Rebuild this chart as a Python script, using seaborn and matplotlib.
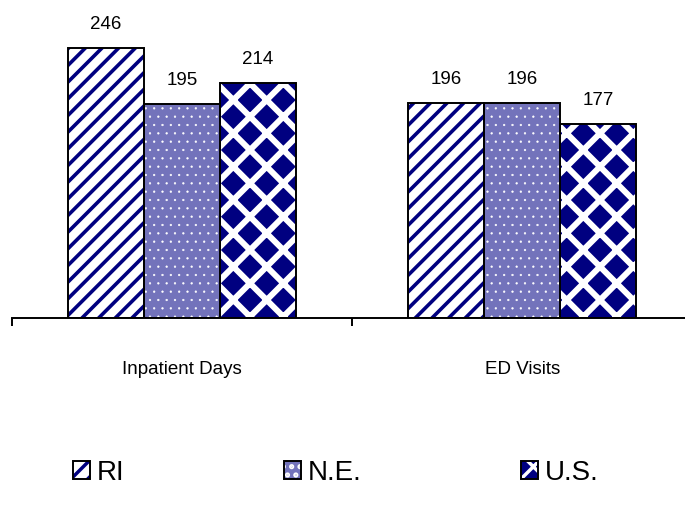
import matplotlib
matplotlib.use("Agg")
import matplotlib.pyplot as plt
import matplotlib.patches as mpatches
from matplotlib.legend_handler import HandlerTuple
import seaborn as sns
import pandas as pd

# -------------------------
# DATA
# -------------------------
categories = ["Inpatient Days", "ED Visits"]
regions = ["RI", "N.E.", "U.S."]
ri_values = [246, 196]
ne_values = [195, 196]
us_values = [214, 177]

# -------------------------
# STYLE
# -------------------------
sns.set_theme(style="white")
plt.rcParams['font.family'] = ['Liberation Sans', 'DejaVu Sans']
plt.rcParams['text.color'] = 'black'
plt.rcParams['xtick.color'] = 'black'
plt.rcParams['xtick.labelcolor'] = 'black'
plt.rcParams['hatch.linewidth'] = 2.5

navy = "#000080"
styles = {
    "RI":   dict(face="white", hatch="//", hcolor=navy, hlw=2.6),
    "N.E.": dict(face="#7373bb", hatch="..", hcolor="white", hlw=0.4),
    "U.S.": dict(face=navy, hatch="x", hcolor="white", hlw=4.3),
}


def style_patch(p, st):
    p.set_facecolor(st["face"])
    p.set_edgecolor(st["hcolor"])
    p.set_hatch(st["hatch"])
    p.set_linewidth(0)
    if hasattr(p, "set_hatch_linewidth"):
        p.set_hatch_linewidth(st["hlw"])


df = pd.DataFrame({
    "Measure": categories * 3,
    "Region": [r for r in regions for _ in categories],
    "Value": ri_values + ne_values + us_values,
})

fig = plt.figure(figsize=(6.85, 5.14), dpi=100)
ax = fig.add_axes([0.0175, 0.381, 0.993, 0.598])

sns.barplot(data=df, x="Measure", y="Value", hue="Region",
            order=categories, hue_order=regions,
            width=0.67, gap=0, saturation=1, legend=False, ax=ax)

for region, cont in zip(regions, ax.containers):
    st = styles[region]
    for bar in cont:
        style_patch(bar, st)
        ax.add_patch(mpatches.Rectangle(bar.get_xy(), bar.get_width(), bar.get_height(),
                                        fill=False, edgecolor="black", linewidth=1.4,
                                        zorder=bar.get_zorder() + 0.1))
    ax.bar_label(cont, padding=11, fontsize=13.5, color="black")

# -------------------------
# AXES
# -------------------------
ax.set_xlim(-0.5, 1.5)
ax.set_ylim(0, 280)
ax.set_xticks([-0.5, 0.5, 1.5])
ax.set_xticklabels([])
ax.set_xticks([0, 1], minor=True)
ax.set_xticklabels(categories, minor=True, fontsize=13.5)
ax.tick_params(axis="x", which="major", bottom=True, direction="out",
               length=6, width=1.4, color="black")
ax.tick_params(axis="x", which="minor", bottom=True, length=0, pad=31)
ax.set_yticks([])
ax.set_xlabel("")
ax.set_ylabel("")
for s in ["left", "right", "top"]:
    ax.spines[s].set_visible(False)
ax.spines["bottom"].set_color("black")
ax.spines["bottom"].set_linewidth(1.4)

# -------------------------
# LEGEND
# -------------------------
handles = []
for region in regions:
    fill = mpatches.Patch()
    style_patch(fill, styles[region])
    outline = mpatches.Patch(fill=False, edgecolor="black", linewidth=1.4)
    handles.append((fill, outline))

fig.legend(handles, regions, loc="center left", bbox_to_anchor=(0.1066, 0.080),
           ncol=3, frameon=False, fontsize=20,
           handler_map={tuple: HandlerTuple(ndivide=1, pad=0)},
           handlelength=0.6, handleheight=0.6, handletextpad=0.25,
           columnspacing=5.75, borderpad=0, borderaxespad=0)

fig.savefig("out.png", dpi=100)
